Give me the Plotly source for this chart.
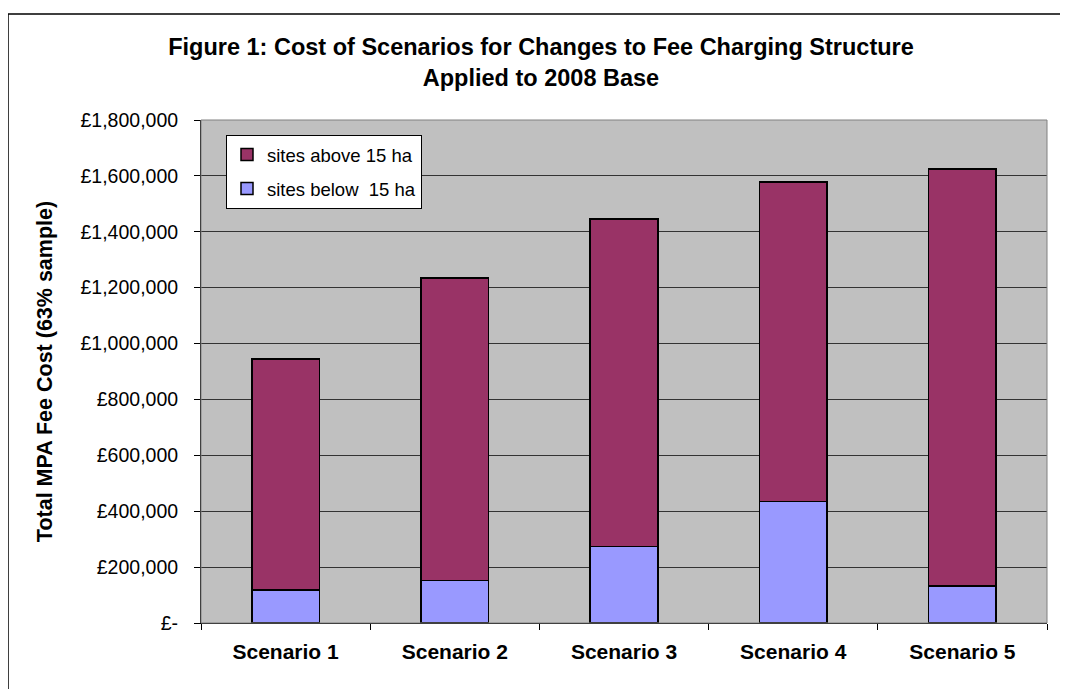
import plotly.graph_objects as go

categories = ["Scenario 1", "Scenario 2", "Scenario 3", "Scenario 4", "Scenario 5"]
below_15ha = [118000, 153000, 273000, 434000, 132000]
above_15ha = [827000, 1082000, 1173000, 1145000, 1493000]
tick_vals = [0, 200000, 400000, 600000, 800000, 1000000, 1200000, 1400000, 1600000, 1800000]
tick_text = ["£-", "£200,000", "£400,000", "£600,000", "£800,000", "£1,000,000",
             "£1,200,000", "£1,400,000", "£1,600,000", "£1,800,000"]

FONT = "Liberation Sans, Arial, sans-serif"

fig = go.Figure()
fig.add_trace(go.Bar(x=categories, y=below_15ha, name="sites below  15 ha",
                     legendgroup="b", legendrank=2,
                     marker=dict(color="#9999FF", line=dict(color="black", width=1.5))))
fig.add_trace(go.Bar(x=categories, y=above_15ha, name="sites above 15 ha",
                     legendgroup="a", legendrank=1,
                     marker=dict(color="#993366", line=dict(color="black", width=1.5))))

OFF = 8  # default page body margin
W, H = 1068 - OFF, 689 - OFF
L, T = 201 - OFF, 120 - OFF
R = W - (1047 - OFF)
B = H - (623 - OFF)
pw, ph = W - L - R, H - T - B

def px(x):
    return (x - OFF - L) / pw

def py(y):
    return (H - B - (y - OFF)) / ph

fig.update_layout(
    width=W, height=H,
    margin=dict(l=L, r=R, t=T, b=B),
    barmode="stack", bargap=0.6,
    plot_bgcolor="#C0C0C0", paper_bgcolor="white",
    font=dict(family=FONT, color="black"),
    title=dict(text="Figure 1: Cost of Scenarios for Changes to Fee Charging Structure<br>Applied to 2008 Base",
               font=dict(family=FONT, size=23.5, color="black", weight="bold"),
               x=(541 - OFF) / W, xanchor="center", xref="container",
               y=1 - (55 - OFF) / H, yanchor="top", yref="container"),
    showlegend=True,
    legend=dict(x=px(226), y=py(135), xanchor="left", yanchor="top",
                bgcolor="white", bordercolor="black", borderwidth=1,
                font=dict(family=FONT, size=18.5, color="black"),
                traceorder="grouped", itemwidth=30, tracegroupgap=7),
    xaxis=dict(type="category", showgrid=False, tickson="boundaries",
               ticks="outside", ticklen=6, tickcolor="black",
               showline=True, linecolor="black", linewidth=1,
               ticklabelstandoff=10,
               tickfont=dict(family=FONT, size=21, color="black", weight="bold")),
    yaxis=dict(range=[0, 1800000], tickvals=tick_vals, ticktext=tick_text,
               showgrid=True, gridcolor="#333333", gridwidth=1,
               ticks="outside", ticklen=6, tickcolor="black",
               showline=True, linecolor="black", linewidth=1, zeroline=False,
               ticklabelstandoff=12,
               tickfont=dict(family=FONT, size=19.5, color="black"),
               title=dict(text="Total MPA Fee Cost (63% sample)", standoff=21,
                          font=dict(family=FONT, size=21.5, color="black", weight="bold"))),
    shapes=[
        dict(type="rect", xref="paper", yref="paper", x0=0, x1=1, y0=0, y1=1,
             line=dict(color="#808080", width=1), layer="above"),
        dict(type="rect", xref="paper", yref="paper",
             x0=px(8), x1=px(1100), y0=py(14), y1=py(730),
             line=dict(color="black", width=1.5)),
    ],
)

fig.write_html("out.html")
